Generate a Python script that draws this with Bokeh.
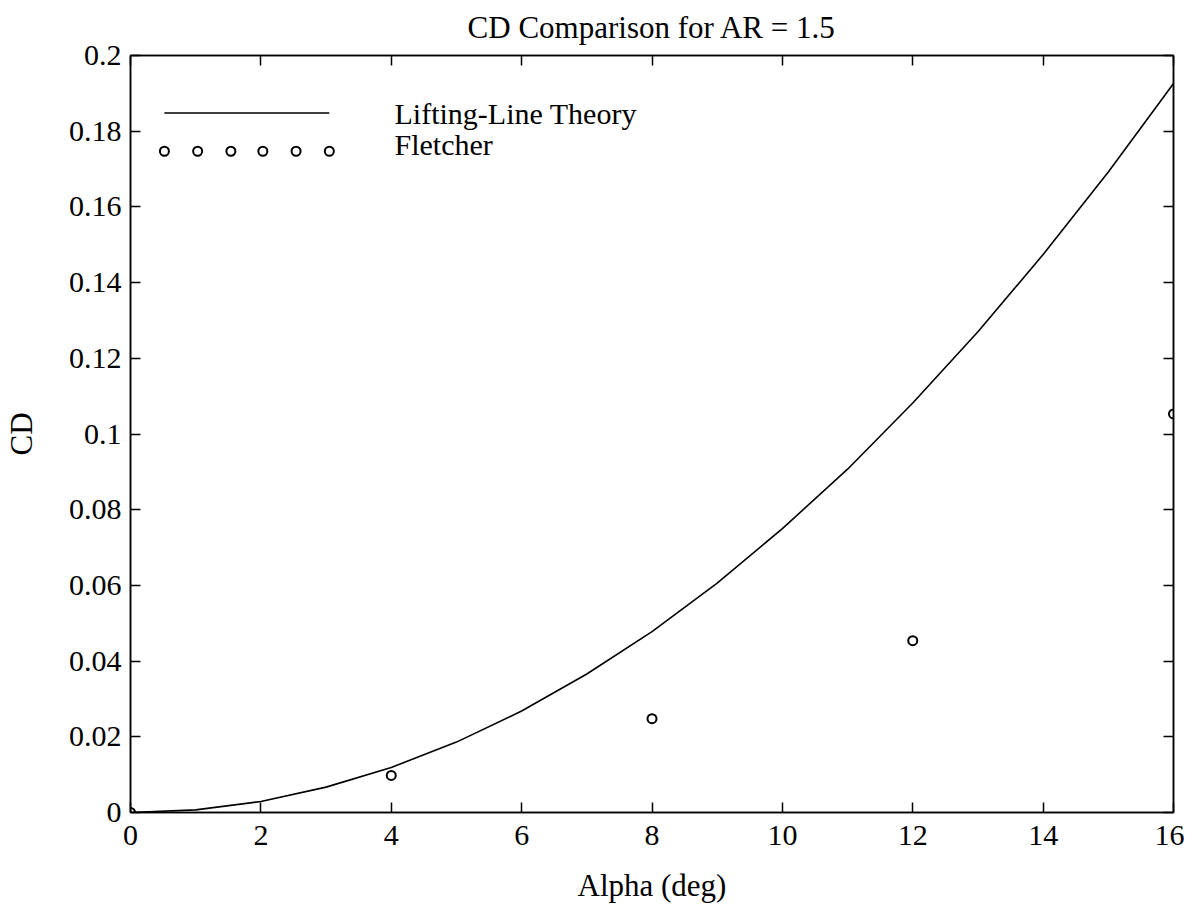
from bokeh.plotting import figure
from bokeh.models import FixedTicker, LinearAxis, CustomJSTickFormatter, Range1d, Title
from bokeh.core.properties import value
from bokeh.embed import file_html
from bokeh.resources import INLINE

# ---- data ----
llt_alpha = [0, 1, 2, 3, 4, 5, 6, 7, 8, 9, 10, 11, 12, 13, 14, 15, 16]
llt_cd = [0.0, 0.0007, 0.0029, 0.0067, 0.0119, 0.0186, 0.0268, 0.0366, 0.0478,
          0.0606, 0.0750, 0.0907, 0.1082, 0.1270, 0.1474, 0.1692, 0.1926]
fl_alpha = [0, 4, 8, 12, 16]
fl_cd = [0.0, 0.0098, 0.0248, 0.0454, 0.1053]
x_ticks = [0, 2, 4, 6, 8, 10, 12, 14, 16]
y_ticks = [0, 0.02, 0.04, 0.06, 0.08, 0.1, 0.12, 0.14, 0.16, 0.18, 0.2]
series_names = ["Lifting-Line Theory", "Fletcher"]
title_text = "CD Comparison for AR = 1.5"

FONT = "Liberation Serif"

p = figure(frame_width=1043, frame_height=757, width=1182, height=908,
           min_border_left=128, min_border_right=11, min_border_top=55, min_border_bottom=96,
           x_range=Range1d(0, 16), y_range=Range1d(0, 0.2),
           output_backend="svg", toolbar_location=None,
           title=Title(text=title_text, text_font=FONT, text_font_size="31px",
                       text_font_style="normal", text_color="black", align="center",
                       standoff=18, vertical_align="top"))
p.grid.visible = False
p.outline_line_color = "black"
p.outline_line_width = 1.5
p.background_fill_color = "white"
p.border_fill_color = "white"

yfmt = CustomJSTickFormatter(code="return tick.toFixed(2).replace(/\\.?0+$/, '');")
blank = CustomJSTickFormatter(code="return '';")

for ax in p.xaxis:
    ax.ticker = FixedTicker(ticks=x_ticks)
    ax.axis_label = "Alpha (deg)"
    ax.major_label_standoff = 13
    ax.axis_label_standoff = 20
for ax in p.yaxis:
    ax.ticker = FixedTicker(ticks=y_ticks)
    ax.formatter = yfmt
    ax.axis_label = "CD"
    ax.major_label_standoff = 9
    ax.axis_label_standoff = 27

for ax in p.xaxis + p.yaxis:
    ax.major_tick_in = 10
    ax.major_tick_out = 0
    ax.minor_tick_line_color = None
    ax.axis_line_width = 1.5
    ax.major_tick_line_width = 1.5
    ax.major_label_text_font = FONT
    ax.major_label_text_font_size = "30px"
    ax.major_label_text_color = "black"
    ax.axis_label_text_font = FONT
    ax.axis_label_text_font_size = "31px"
    ax.axis_label_text_font_style = "normal"
    ax.axis_label_text_color = "black"

# mirror ticks on top and right
top = LinearAxis(ticker=FixedTicker(ticks=x_ticks), formatter=blank,
                 major_tick_in=10, major_tick_out=0, major_label_standoff=0,
                 major_label_text_font_size="1px",
                 minor_tick_line_color=None, axis_line_width=1.5, major_tick_line_width=1.5)
right = LinearAxis(ticker=FixedTicker(ticks=y_ticks), formatter=blank,
                   major_tick_in=10, major_tick_out=0, major_label_standoff=0,
                   major_label_text_font_size="1px",
                   minor_tick_line_color=None, axis_line_width=1.5, major_tick_line_width=1.5)
p.add_layout(top, "above")
p.add_layout(right, "right")

# series
p.line(llt_alpha, llt_cd, line_color="black", line_width=1.6)
p.scatter(fl_alpha, fl_cd, marker="circle", size=9, fill_color=None,
          line_color="black", line_width=2)

# legend (drawn manually, no box)
leg_line_x = [0.52, 3.05]
leg_line_y = 0.1848
leg_mark_x = [0.52, 1.03, 1.54, 2.03, 2.54, 3.05]
leg_mark_y = 0.1747
leg_text_x = 4.05
leg_text_y = [0.1847, 0.1765]
p.line(leg_line_x, [leg_line_y, leg_line_y], line_color="black", line_width=1.6)
p.scatter(leg_mark_x, [leg_mark_y] * len(leg_mark_x), marker="circle", size=9,
          fill_color=None, line_color="black", line_width=2)
p.text(x=[leg_text_x, leg_text_x], y=leg_text_y, text=series_names,
       text_font=value(FONT), text_font_size="30px", text_baseline="middle",
       text_align="left", text_color="black")

open("out.html", "w").write(file_html(p, INLINE))
